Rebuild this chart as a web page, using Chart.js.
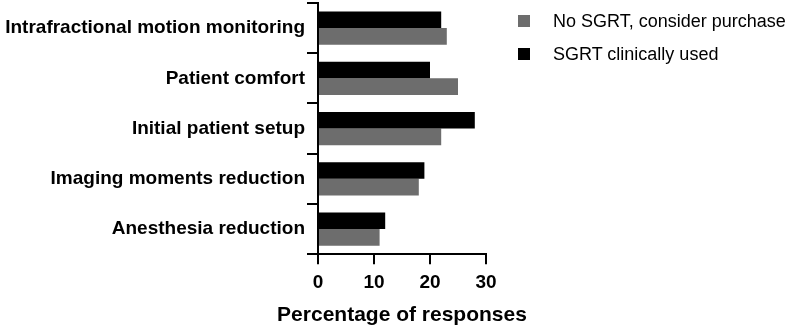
<!DOCTYPE html>
<html>
<head>
<meta charset="utf-8">
<script src="https://cdn.jsdelivr.net/npm/chart.js@4"></script>
<style>
  html, body { margin: 0; padding: 0; background: #fff; }
  #wrap { position: relative; width: 800px; height: 335px; }
  #legend { position: absolute; left: 518px; top: 9px; font-family: 'Liberation Sans', Arial, sans-serif; font-size: 18px; color: #000; }
  #legend div { position: relative; height: 33px; line-height: 24px; padding-left: 35px; white-space: nowrap; }
  #legend span { position: absolute; left: 0; top: 6px; width: 12px; height: 12px; }
</style>
</head>
<body>
<div id="wrap"><canvas id="chart"></canvas><div id="legend"></div></div>
<script>
const categories = ['Intrafractional motion monitoring', 'Patient comfort', 'Initial patient setup', 'Imaging moments reduction', 'Anesthesia reduction'];
const usedValues = [22, 20, 28, 19, 12];
const purchaseValues = [23, 25, 22, 18, 11];
const xTicks = [0, 10, 20, 30];
const xTitle = 'Percentage of responses';

// x title drawn by hand so chart.js does not squeeze it into the narrow plot width
const xTitlePlugin = {
    id: 'xTitle',
    afterDraw(chart) {
        let ctx = chart.ctx
        let area = chart.chartArea
        ctx.save()
        ctx.font = 'bold 21px "Liberation Sans", Arial'
        ctx.fillStyle = '#000'
        ctx.textAlign = 'center'
        ctx.textBaseline = 'alphabetic'
        ctx.fillText(xTitle, (area.left + area.right) / 2, 321)
        ctx.restore()
    }
}

function responsesChart(id, legendId) {
    const data = {
        labels: categories,
        datasets: [{
                label: 'SGRT clinically used',
                data: usedValues,
                backgroundColor: '#000000',
                barPercentage: 1,
                categoryPercentage: 0.66
            }, {
                label: 'No SGRT, consider purchase',
                data: purchaseValues,
                backgroundColor: '#6d6d6d',
                barPercentage: 1,
                categoryPercentage: 0.66
            }]
    };
    const config = {
        type: 'bar',
        data: data,
        options: {
            indexAxis: 'y',
            responsive: true,
            maintainAspectRatio: false,
            animation: false,
            layout: {padding: {top: 3, left: 4, right: 314, bottom: 34}},
            plugins: {
                legend: {display: false},
                tooltip: {enabled: false}
            },
            scales: {
                x: {
                    min: 0,
                    max: 30,
                    afterBuildTicks: axis => { axis.ticks = xTicks.map(v => ({value: v})) },
                    grid: {drawOnChartArea: false, drawTicks: true, tickLength: 10, color: '#000', lineWidth: 2},
                    border: {display: true, color: '#000', width: 2},
                    ticks: {color: '#000', padding: 7, font: {family: 'Liberation Sans, Arial', size: 19, weight: 'bold'}}
                },
                y: {
                    afterFit: axis => {
                        axis.width = 314
                        axis.paddingTop = 0
                        axis.paddingBottom = 0
                    },
                    grid: {drawOnChartArea: false, drawTicks: true, tickLength: 11, color: '#000', lineWidth: 2},
                    border: {display: true, color: '#000', width: 2},
                    ticks: {color: '#000', padding: 2, font: {family: 'Liberation Sans, Arial', size: 19, weight: 'bold'}}
                }
            }
        },
        plugins: [xTitlePlugin]
    };
    let ctx = document.getElementById(id).getContext("2d")
    let chart = new Chart(ctx, config)

    // legend as real text, gray series first like the original
    let legend = document.getElementById(legendId)
    chart.data.datasets.slice().reverse().forEach(ds => {
        let row = document.createElement('div')
        let box = document.createElement('span')
        box.style.background = ds.backgroundColor
        row.appendChild(box)
        row.appendChild(document.createTextNode(ds.label))
        legend.appendChild(row)
    })
}

responsesChart('chart', 'legend')
</script>
</body>
</html>
